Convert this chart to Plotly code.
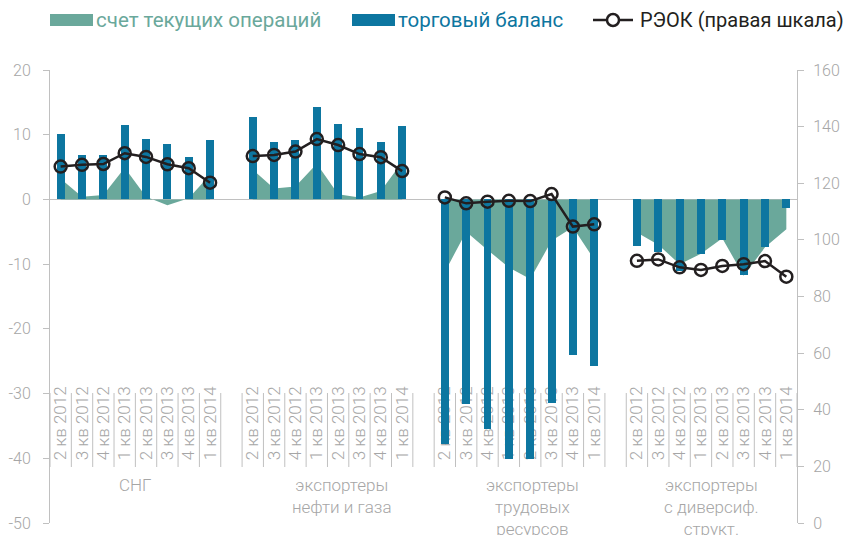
import plotly.graph_objects as go

# ---------------- data ----------------
quarters = ["2 кв 2012", "3 кв 2012", "4 кв 2012", "1 кв 2013",
            "2 кв 2013", "3 кв 2013", "4 кв 2013", "1 кв 2014"]
groups = ["СНГ", "экспортеры<br>нефти и газа",
          "экспортеры<br>трудовых<br>ресурсов",
          "экспортеры<br>с диверсиф.<br>структ."]

# торговый баланс (left axis)
tb_cis = [10.1, 6.8, 6.8, 11.5, 9.4, 8.5, 6.6, 9.2]
tb_oil = [12.7, 8.9, 9.2, 14.35, 11.7, 11.1, 8.9, 11.3]
tb_labor = [-37.8, -31.6, -35.5, -40.1, -40.1, -31.4, -24.0, -25.7]
tb_div = [-7.2, -8.1, -11.0, -8.4, -6.3, -11.7, -7.4, -1.3]

# счет текущих операций (left axis)
ca_cis = [3.2, 0.4, 0.7, 4.9, 0.4, -0.9, 0.2, 3.8]
ca_oil = [4.6, 1.7, 2.0, 5.5, 0.8, 0.3, 1.3, 5.8]
ca_labor = [-11.2, -5.0, -7.8, -10.5, -12.3, -6.4, -4.3, -9.3]
ca_div = [-5.1, -7.0, -10.0, -8.4, -6.0, -11.8, -7.4, -4.6]

# РЭОК (right axis)
reok_cis = [125.9, 126.5, 126.8, 130.6, 129.3, 126.7, 125.3, 120.2]
reok_oil = [129.6, 130.0, 131.2, 135.6, 133.5, 130.3, 129.2, 124.3]
reok_labor = [115.0, 112.9, 113.5, 113.8, 113.7, 116.2, 104.7, 105.5]
reok_div = [92.6, 93.1, 90.3, 89.4, 90.8, 91.4, 92.5, 87.0]

left_ticks = [-50, -40, -30, -20, -10, 0, 10, 20]
right_ticks = [0, 20, 40, 60, 80, 100, 120, 140, 160]

tb_all = [tb_cis, tb_oil, tb_labor, tb_div]
ca_all = [ca_cis, ca_oil, ca_labor, ca_div]
reok_all = [reok_cis, reok_oil, reok_labor, reok_div]

# ---------------- styling ----------------
TEAL = "#6aa89b"
BLUE = "#0d76a0"
BLACK = "#231f20"
GRAY = "#a6a6a6"
AXIS = "#c0c0c0"
FONT = "Roboto"

W, H = 847, 535
ML, MR, MT, MB = 50, 50, 70, 12
PW, PH = W - ML - MR, H - MT - MB
STEP = len(quarters) + 1
NSLOT = STEP * len(groups) - 1


def px_x(p):
    return (p - ML) / PW


def px_y(p):
    return (H - MB - p) / PH


fig = go.Figure()

positions = []
for g in range(len(groups)):
    xs = [g * STEP + i for i in range(len(quarters))]
    positions.append(xs)
    fig.add_trace(go.Scatter(
        x=xs, y=ca_all[g], mode="lines", fill="tozeroy",
        fillcolor=TEAL, line=dict(width=0, color=TEAL),
        xaxis="x", yaxis="y", hoverinfo="skip", showlegend=False))

all_x = [x for xs in positions for x in xs]
all_tb = [v for vs in tb_all for v in vs]
fig.add_trace(go.Bar(
    x=all_x, y=all_tb, width=0.37, marker=dict(color=BLUE, line=dict(width=0)),
    xaxis="x", yaxis="y2", showlegend=False))

for g in range(len(groups)):
    fig.add_trace(go.Scatter(
        x=positions[g], y=reok_all[g], mode="lines+markers",
        line=dict(color=BLACK, width=2.5),
        marker=dict(symbol="circle-open", size=12, color=BLACK,
                    line=dict(width=2.5, color=BLACK)),
        xaxis="x", yaxis="y3", showlegend=False))

tick_font = dict(family=FONT, size=16, color=GRAY, weight=300)

# category separators
shapes = []
for g in range(len(groups)):
    for k in range(len(quarters) + 1):
        xb = g * STEP - 0.5 + k
        shapes.append(dict(type="line", xref="x", yref="paper",
                           x0=xb, x1=xb, y0=px_y(467), y1=px_y(393),
                           line=dict(color=AXIS, width=1), layer="below"))

annotations = []
label_shift = [0.0, 0.7, 0.6, 0.0]
for g, name in enumerate(groups):
    cx = g * STEP + (len(quarters) - 1) / 2 + label_shift[g]
    annotations.append(dict(
        x=cx, xref="x", y=px_y(473), yref="paper", yanchor="top",
        xanchor="center", text=name, showarrow=False, align="center",
        font=dict(family=FONT, size=17, color=GRAY, weight=300)))

# legend (manual)
LEG_Y = 20
shapes.append(dict(type="rect", xref="paper", yref="paper",
                   x0=px_x(50), x1=px_x(93), y0=px_y(26), y1=px_y(14),
                   fillcolor=TEAL, line=dict(width=0)))
annotations.append(dict(x=px_x(94), y=px_y(LEG_Y), xref="paper", yref="paper",
                        xanchor="left", yanchor="middle", showarrow=False,
                        text="счет текущих операций",
                        font=dict(family=FONT, size=20.5, color=TEAL)))
shapes.append(dict(type="rect", xref="paper", yref="paper",
                   x0=px_x(352), x1=px_x(395), y0=px_y(26), y1=px_y(14),
                   fillcolor=BLUE, line=dict(width=0)))
annotations.append(dict(x=px_x(396), y=px_y(LEG_Y), xref="paper", yref="paper",
                        xanchor="left", yanchor="middle", showarrow=False,
                        text="торговый баланс",
                        font=dict(family=FONT, size=20.5, color=BLUE)))
shapes.append(dict(type="line", xref="paper", yref="paper",
                   x0=px_x(593), x1=px_x(633), y0=px_y(LEG_Y), y1=px_y(LEG_Y),
                   line=dict(color=BLACK, width=2.5)))
shapes.append(dict(type="circle", xref="paper", yref="paper",
                   x0=px_x(607), x1=px_x(619), y0=px_y(LEG_Y + 6), y1=px_y(LEG_Y - 6),
                   fillcolor="white", line=dict(color=BLACK, width=2.5)))
annotations.append(dict(x=px_x(638), y=px_y(LEG_Y), xref="paper", yref="paper",
                        xanchor="left", yanchor="middle", showarrow=False,
                        text="РЭОК (правая шкала)",
                        font=dict(family=FONT, size=20, color=BLACK)))

fig.update_layout(
    width=W, height=H,
    margin=dict(l=ML, r=MR, t=MT, b=MB, pad=0, autoexpand=False),
    paper_bgcolor="white", plot_bgcolor="white",
    showlegend=False,
    font=dict(family=FONT, color=GRAY),
    xaxis=dict(range=[-0.5, NSLOT - 0.5], tickmode="array",
               tickvals=all_x, ticktext=quarters * len(groups),
               tickangle=-90, anchor="free", position=px_y(382),
               layer="below traces", showline=False, ticks="",
               showgrid=False, zeroline=False, automargin=False,
               tickfont=dict(family=FONT, size=17, color=GRAY, weight=300),
               ticklabelstandoff=0),
    yaxis=dict(range=[-50, 20], tickmode="array", tickvals=left_ticks,
               ticktext=[str(v) for v in left_ticks],
               showline=True, linecolor=AXIS, linewidth=1,
               ticks="outside", ticklen=6, tickcolor=AXIS,
               ticklabelstandoff=9, automargin=False,
               showgrid=False, zeroline=True, zerolinecolor=AXIS,
               zerolinewidth=1, tickfont=tick_font),
    yaxis2=dict(range=[-50, 20], overlaying="y", visible=False,
                showgrid=False, zeroline=False, automargin=False),
    yaxis3=dict(range=[0, 160], overlaying="y", side="right",
                tickmode="array", tickvals=right_ticks,
                showline=True, linecolor=AXIS, linewidth=1,
                ticks="outside", ticklen=6, tickcolor=AXIS,
                ticklabelstandoff=6, automargin=False,
                showgrid=False, zeroline=False, tickfont=tick_font),
    bargap=0,
    shapes=shapes, annotations=annotations,
)

fig.write_html(
    "out.html",
    config={"displayModeBar": False},
    post_script="document.body.style.margin='0';document.body.style.overflow='hidden';",
)
